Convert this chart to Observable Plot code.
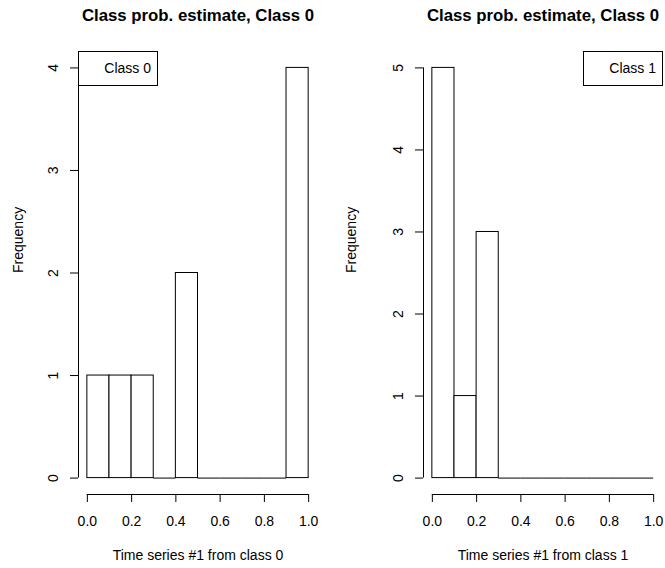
<!DOCTYPE html>
<html><head><meta charset="utf-8">
<script src="https://cdn.jsdelivr.net/npm/d3@7"></script>
<script src="https://cdn.jsdelivr.net/npm/@observablehq/plot@0.6"></script>
<style>
body{margin:0;background:#fff}
#c{display:flex;width:665px;height:568px}
svg{overflow:visible}
</style>
</head><body><div id="c"></div>
<script>
const binEdges = [0, 0.1, 0.2, 0.3, 0.4, 0.5, 0.6, 0.7, 0.8, 0.9, 1.0];
const class0Counts = [1, 1, 1, 0, 2, 0, 0, 0, 0, 4];
const class1Counts = [5, 1, 3, 0, 0, 0, 0, 0, 0, 0];
const xTicks = [0, 0.2, 0.4, 0.6, 0.8, 1.0];
const class0YTicks = [0, 1, 2, 3, 4];
const class1YTicks = [0, 1, 2, 3, 4, 5];
const panelTitles = ["Class prob. estimate, Class 0", "Class prob. estimate, Class 0"];
const xAxisLabels = ["Time series #1 from class 0", "Time series #1 from class 1"];
const yAxisLabel = "Frequency";
const legendLabels = ["Class 0", "Class 1"];

const FONT = "'Liberation Sans', Arial, Helvetica, sans-serif";
const FS = 14;

function panel({width, marginLeft, marginRight, counts, yTicks, title, xlabel, legend, legendSide}) {
  const bins = counts.map((c, i) => ({x1: binEdges[i], x2: binEdges[i + 1], count: c}));
  const xMin = binEdges[0], xMax = binEdges[binEdges.length - 1];
  const yMax = d3.max(counts);
  const xPad = 0.04 * (xMax - xMin), yPad = 0.04 * yMax;
  const marginTop = 51, marginBottom = 74, height = 568;
  const legendMark = (index, scales, values, dim) => {
    const g = d3.create("svg:g");
    const bw = 79, bh = 34;
    const left = legendSide === "left" ? dim.marginLeft : dim.width - dim.marginRight - bw;
    const top = dim.marginTop;
    g.append("rect").attr("x", left + 0.5).attr("y", top + 0.5).attr("width", bw).attr("height", bh)
      .attr("fill", "white").attr("stroke", "black");
    g.append("text").attr("x", left + bw - 6).attr("y", top + bh / 2 + 1).attr("text-anchor", "end")
      .attr("dominant-baseline", "middle").attr("font-size", FS).attr("fill", "black").text(legend);
    return g.node();
  };
  return Plot.plot({
    width, height, marginLeft, marginRight, marginTop, marginBottom,
    style: {fontFamily: FONT, fontSize: FS + "px", background: "white", color: "black"},
    x: {domain: [xMin - xPad, xMax + xPad]},
    y: {domain: [-yPad, yMax + yPad]},
    marks: [
      Plot.rect(bins.filter(d => d.count > 0), {x1: "x1", x2: "x2", y1: () => 0, y2: "count", fill: "white", stroke: "black", strokeWidth: 1}),
      Plot.ruleY(bins.filter(d => d.count === 0), {y: () => 0, x1: "x1", x2: "x2", stroke: "black", strokeWidth: 1}),
      Plot.ruleX([xMin - xPad], {x: d => d, y1: () => yTicks[0], y2: () => yTicks[yTicks.length - 1], stroke: "black"}),
      Plot.ruleY([-yPad], {y: d => d, x1: () => xTicks[0], x2: () => xTicks[xTicks.length - 1], stroke: "black"}),
      Plot.axisX({ticks: xTicks, tickSize: 8, tickPadding: 14, tickFormat: d3.format(".1f"), label: null, fontSize: FS}),
      Plot.axisY({ticks: yTicks, tickSize: 8, tickPadding: 13, tickRotate: -90, tickFormat: d3.format("d"), label: null, fontSize: FS}),
      Plot.text([xlabel], {text: d => d, frameAnchor: "bottom", lineAnchor: "middle", dy: 61, fontSize: FS, fill: "black"}),
      Plot.text([yAxisLabel], {text: d => d, frameAnchor: "left", lineAnchor: "middle", dx: -(marginLeft - 18), rotate: -90, fontSize: FS, fill: "black"}),
      Plot.text([title], {text: d => d, frameAnchor: "top", lineAnchor: "middle", dy: -36, fontSize: 16.8, fontWeight: "bold", fill: "black"}),
      legendMark
    ]
  });
}

const c = document.getElementById("c");
c.append(panel({width: 333, marginLeft: 78, marginRight: 16, counts: class0Counts, yTicks: class0YTicks,
  title: panelTitles[0], xlabel: xAxisLabels[0], legend: legendLabels[0], legendSide: "left"}));
c.append(panel({width: 332, marginLeft: 90, marginRight: 3, counts: class1Counts, yTicks: class1YTicks,
  title: panelTitles[1], xlabel: xAxisLabels[1], legend: legendLabels[1], legendSide: "right"}));
</script>
</body></html>
